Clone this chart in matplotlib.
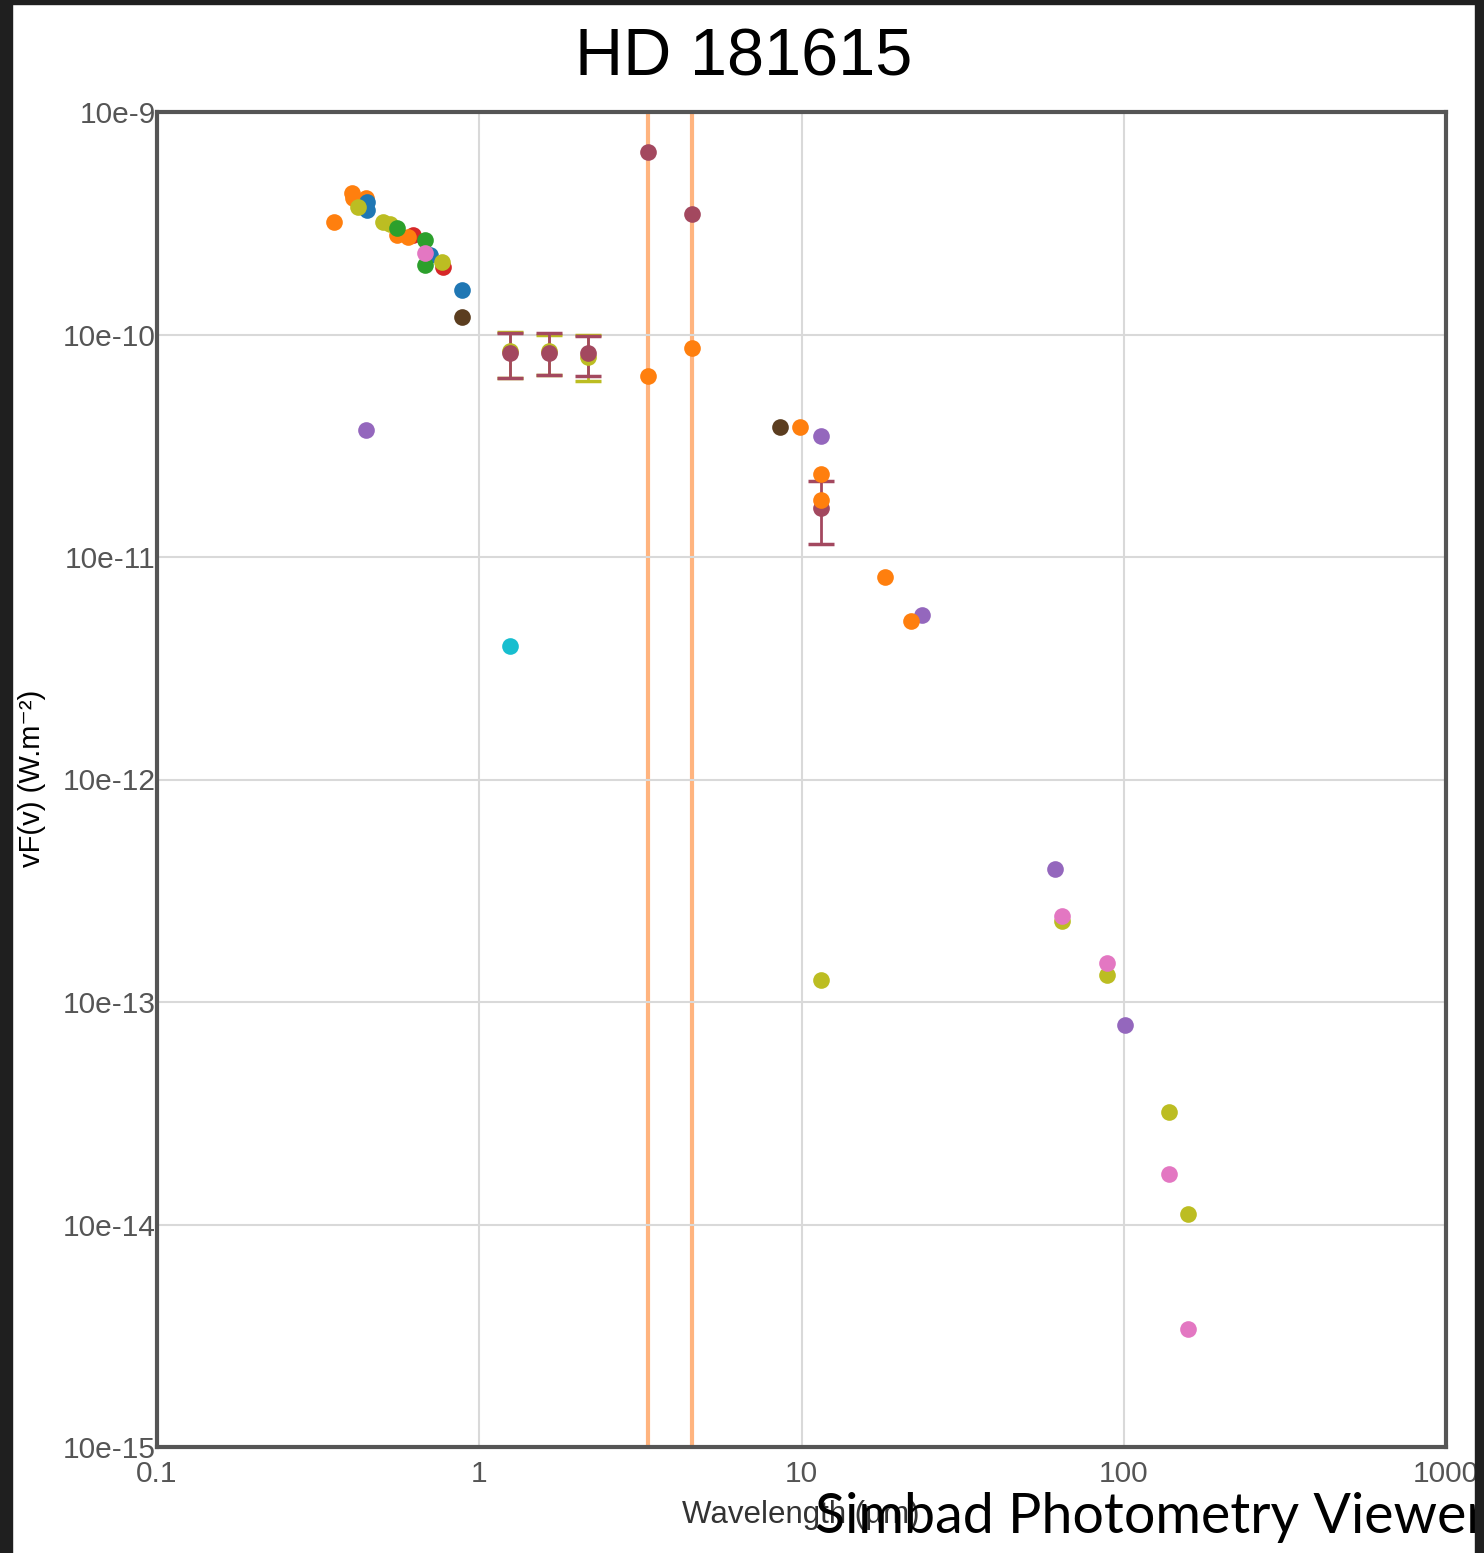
import matplotlib
matplotlib.use("Agg")
from matplotlib import pyplot as plt
from matplotlib.patches import Rectangle

# photometry points, wavelength (um) / nuFnu (W.m-2)
orange_x = [0.354, 0.403, 0.405, 0.446, 0.556, 0.601, 3.34, 4.57, 9.89, 11.5, 11.5, 18.2, 21.9]
orange_y = [3.2e-10, 4.33e-10, 4.1e-10, 4.1e-10, 2.8e-10, 2.75e-10, 6.5e-11, 8.7e-11,
            3.84e-11, 2.36e-11, 1.8e-11, 8.1e-12, 5.15e-12]
orange_bar_x = [3.34, 4.57]
orange_bar_lo = [1e-16, 1e-16]
orange_bar_hi = [1e-8, 1e-8]

blue_x = [0.449, 0.449, 0.703, 0.884]
blue_y = [3.94e-10, 3.63e-10, 2.28e-10, 1.58e-10]

green_x = [0.556, 0.679, 0.679]
green_y = [3.01e-10, 2.66e-10, 2.05e-10]

red_x = [0.623, 0.772]
red_y = [2.8e-10, 2.01e-10]

olive_x = [0.421, 0.503, 0.528, 0.766, 11.5, 64.3, 88.7, 138, 158]
olive_y = [3.74e-10, 3.2e-10, 3.15e-10, 2.12e-10, 1.26e-13, 2.31e-13, 1.32e-13, 3.2e-14, 1.11e-14]
olive_err_x = [1.245, 1.646, 2.18]
olive_err_y = [8.4e-11, 8.4e-11, 7.9e-11]
olive_err_lo = [6.4e-11, 6.6e-11, 6.2e-11]
olive_err_hi = [1.03e-10, 1.0e-10, 9.9e-11]

pink_x = [0.679, 64.3, 88.7, 138, 158]
pink_y = [2.32e-10, 2.44e-13, 1.5e-13, 1.69e-14, 3.39e-15]

purple_x = [0.446, 11.5, 23.7, 61.2, 101]
purple_y = [3.73e-11, 3.5e-11, 5.48e-12, 3.96e-13, 7.9e-14]

brown_x = [0.884, 8.57]
brown_y = [1.2e-10, 3.84e-11]

cyan_x = [1.245]
cyan_y = [3.98e-12]

maroon_x = [3.34, 4.57]
maroon_y = [6.6e-10, 3.48e-10]
maroon_err_x = [1.245, 1.646, 2.18, 11.5]
maroon_err_y = [8.26e-11, 8.3e-11, 8.26e-11, 1.66e-11]
maroon_err_lo = [6.37e-11, 6.57e-11, 6.5e-11, 1.14e-11]
maroon_err_hi = [1.02e-10, 1.02e-10, 9.84e-11, 2.2e-11]

x_ticks = [0.1, 1, 10, 100, 1000]
x_labels = ["0.1", "1", "10", "100", "1000"]
y_ticks = [1e-15, 1e-14, 1e-13, 1e-12, 1e-11, 1e-10, 1e-9]
y_labels = ["10e-15", "10e-14", "10e-13", "10e-12", "10e-11", "10e-10", "10e-9"]

W, H = 1484, 1553
fig = plt.figure(figsize=(W / 100, H / 100), dpi=100)
ax = fig.add_axes([157 / W, 106 / H, 1289 / W, 1335 / H])

ms = 12
ax.vlines(orange_bar_x, orange_bar_lo, orange_bar_hi, color="#ffb47f", lw=3, zorder=1)


def err(x, y, lo, hi, c):
    yerr = [[v - l for v, l in zip(y, lo)], [h - v for v, h in zip(y, hi)]]
    ax.errorbar(x, y, yerr=yerr, fmt="o", color=c, ms=ms - 1, mec=c, capsize=9.5,
                capthick=2.5, elinewidth=2, zorder=2)


err(olive_err_x, olive_err_y, olive_err_lo, olive_err_hi, "#bcbd22")
err(maroon_err_x, maroon_err_y, maroon_err_lo, maroon_err_hi, "#a3485f")

series = [
    (purple_x, purple_y, "#9467bd"),
    (red_x, red_y, "#d62728"),
    (orange_x, orange_y, "#ff7f0e"),
    (blue_x, blue_y, "#1f77b4"),
    (olive_x, olive_y, "#bcbd22"),
    (green_x, green_y, "#2ca02c"),
    (pink_x, pink_y, "#e377c2"),
    (brown_x, brown_y, "#5b3d1f"),
    (cyan_x, cyan_y, "#17becf"),
    (maroon_x, maroon_y, "#a3485f"),
]
for x, y, c in series:
    ax.plot(x, y, "o", color=c, ms=ms, mew=0, zorder=3)

ax.set_xscale("log")
ax.set_yscale("log")
ax.set_xlim(0.1, 1000)
ax.set_ylim(1e-15, 1e-9)
ax.set_xticks(x_ticks)
ax.set_xticklabels(x_labels)
ax.set_yticks(y_ticks)
ax.set_yticklabels(y_labels)
ax.minorticks_off()
ax.tick_params(length=0, labelsize=21.5, labelcolor="#555555")
ax.tick_params(axis="x", pad=9)
ax.tick_params(axis="y", pad=1)
for lab in ax.get_xticklabels() + ax.get_yticklabels():
    lab.set_fontfamily("Liberation Sans")
ax.grid(True, color="#d9d9d9", lw=1.5)
for sp in ax.spines.values():
    sp.set_color("#555555")
    sp.set_linewidth(3)

fig.text(744 / W, 1 - 58 / H, "HD 181615", ha="center", va="center",
         fontsize=48, family="Liberation Sans")
fig.text(801 / W, 1 - 1515 / H, "Wavelength (µm)", ha="center", va="center",
         fontsize=22.5, color="#333333", family="Liberation Sans")
fig.text(32 / W, 1 - 778 / H, "vF(v) (W.m⁻²)", ha="center", va="center", rotation=90,
         fontsize=21, color="black", fontweight="medium",
         family=["Liberation Sans", "DejaVu Sans"])
fig.text(815 / W, 1 - 1533 / H, "Simbad Photometry Viewer", ha="left", va="baseline",
         fontsize=40, color="black", family="Lato")

# dark frame around the screenshot
dark = "#1f1f1f"
fig.add_artist(Rectangle((0, 0), 12 / W, 1, transform=fig.transFigure, color=dark, zorder=10))
fig.add_artist(Rectangle((0, 1 - 4 / H), 1, 4 / H, transform=fig.transFigure, color=dark, zorder=10))
fig.add_artist(Rectangle((1 - 9 / W, 0), 9 / W, 1, transform=fig.transFigure, color=dark, zorder=10))

fig.savefig("out.png", dpi=100)
